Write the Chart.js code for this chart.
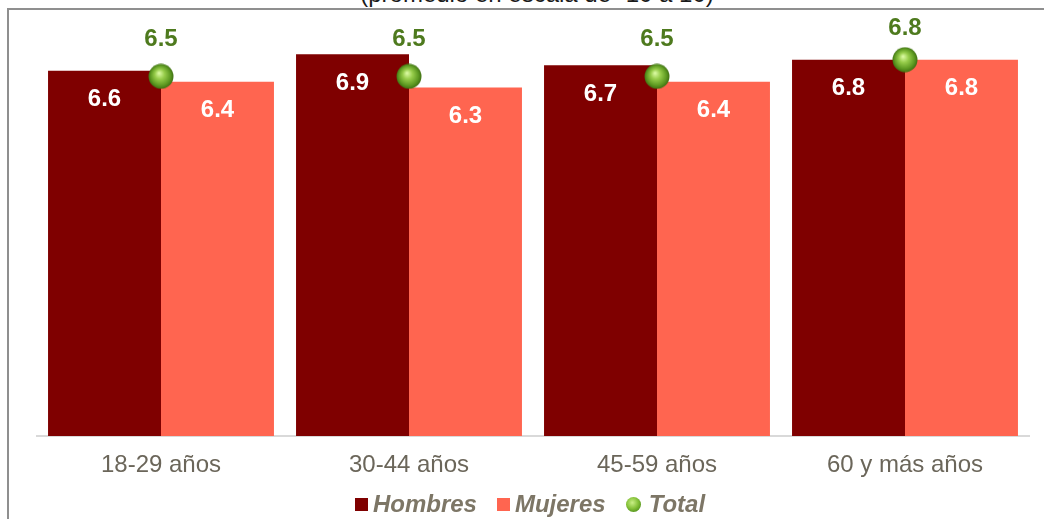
<!DOCTYPE html>
<html>
<head>
<meta charset="utf-8">
<script src="https://cdn.jsdelivr.net/npm/chart.js@4.4.1/dist/chart.umd.min.js"></script>
<style>
  html, body { margin: 0; padding: 0; background: #ffffff; }
  body { width: 1044px; height: 519px; position: relative; overflow: hidden; font-family: Arial, "Liberation Sans", sans-serif; }
  #frame { position: absolute; left: 7px; top: 8px; width: 1100px; height: 600px; border-left: 2px solid #8f8f8f; border-top: 2px solid #8f8f8f; }
  #title { position: absolute; left: 0; width: 1074px; top: -18px; text-align: center; font-size: 24px; line-height: 24px; color: #1a1a1a; }
  #chartWrap { position: absolute; left: 0; top: 0; width: 1044px; height: 519px; }
  #legend { position: absolute; left: 0; width: 1060px; top: 490px; display: flex; justify-content: center; align-items: center; font-size: 24px; line-height: 28px; font-weight: bold; font-style: italic; color: #7d7666; }
  .li { display: flex; align-items: center; margin: 0 10px; }
  .sq { width: 13px; height: 13px; margin-right: 5px; }
  .sph { width: 15px; height: 15px; border-radius: 50%; margin-right: 8px; background: radial-gradient(circle at 42% 38%, #c9ef86 0%, #86c23a 45%, #50901a 80%, #3a6a10 100%); }
</style>
</head>
<body>
<div id="title">(promedio en escala de -10 a 10)</div>
<div id="frame"></div>
<div id="chartWrap"><canvas id="c" width="1044" height="519"></canvas></div>
<div id="legend">
  <div class="li"><div class="sq" style="background:#7f0000"></div>Hombres</div>
  <div class="li"><div class="sq" style="background:#ff6550"></div>Mujeres</div>
  <div class="li"><div class="sph"></div>Total</div>
</div>
<script>
const categories = ["18-29 años", "30-44 años", "45-59 años", "60 y más años"];
const hombres = [6.6, 6.9, 6.7, 6.8];
const mujeres = [6.4, 6.3, 6.4, 6.8];
const total = [6.5, 6.5, 6.5, 6.8];
const seriesNames = ["Hombres", "Mujeres", "Total"];

function makeSphere(d) {
  const c = document.createElement('canvas');
  c.width = d; c.height = d;
  const ctx = c.getContext('2d');
  const r = d / 2;
  const g = ctx.createRadialGradient(r * 0.85, r * 0.75, r * 0.05, r, r, r);
  g.addColorStop(0, '#d6f79c');
  g.addColorStop(0.35, '#96cc4a');
  g.addColorStop(0.75, '#5e9a22');
  g.addColorStop(1, '#3b6a10');
  ctx.beginPath();
  ctx.arc(r, r, r - 0.5, 0, Math.PI * 2);
  ctx.fillStyle = g;
  ctx.fill();
  return c;
}
const sphere = makeSphere(26);

const labelPlugin = {
  id: 'valueLabels',
  afterDatasetsDraw(chart) {
    const ctx = chart.ctx;
    ctx.save();
    ctx.textAlign = 'center';
    ctx.textBaseline = 'middle';
    chart.data.datasets.forEach((ds, di) => {
      const meta = chart.getDatasetMeta(di);
      meta.data.forEach((el, i) => {
        const v = ds.data[i].toFixed(1);
        ctx.font = 'bold 24px Arial, "Liberation Sans", sans-serif';
        if (ds.type === 'line') {
          ctx.fillStyle = '#4e7a1e';
          ctx.fillText(v, el.x, Math.max(el.y - 37, 28));
        } else {
          ctx.fillStyle = '#ffffff';
          ctx.fillText(v, el.x, el.y + 29);
        }
      });
    });
    ctx.restore();
  }
};

new Chart(document.getElementById('c'), {
  data: {
    labels: categories,
    datasets: [
      { type: 'bar', label: seriesNames[0], data: hombres, backgroundColor: '#7f0000', order: 1, categoryPercentage: 0.911, barPercentage: 1.0 },
      { type: 'bar', label: seriesNames[1], data: mujeres, backgroundColor: '#ff6550', order: 1, categoryPercentage: 0.911, barPercentage: 1.0 },
      { type: 'line', label: seriesNames[2], data: total, showLine: false, pointStyle: sphere, pointRadius: 13, pointHoverRadius: 13, order: 0 }
    ]
  },
  options: {
    responsive: false,
    animation: false,
    events: [],
    layout: { padding: { left: 37, right: 15, top: 21, bottom: 0 } },
    plugins: { legend: { display: false }, tooltip: { enabled: false }, title: { display: false } },
    scales: {
      x: {
        grid: { display: false, drawTicks: false },
        border: { display: true, color: '#d9d9d9', width: 2 },
        ticks: { color: '#6b665a', font: { family: 'Arial, "Liberation Sans", sans-serif', size: 24 }, padding: 15 },
        afterFit(s) { s.height = 519 - 436; }
      },
      y: { display: false, min: 0, max: 7.5 }
    }
  },
  plugins: [labelPlugin]
});
</script>
</body>
</html>
